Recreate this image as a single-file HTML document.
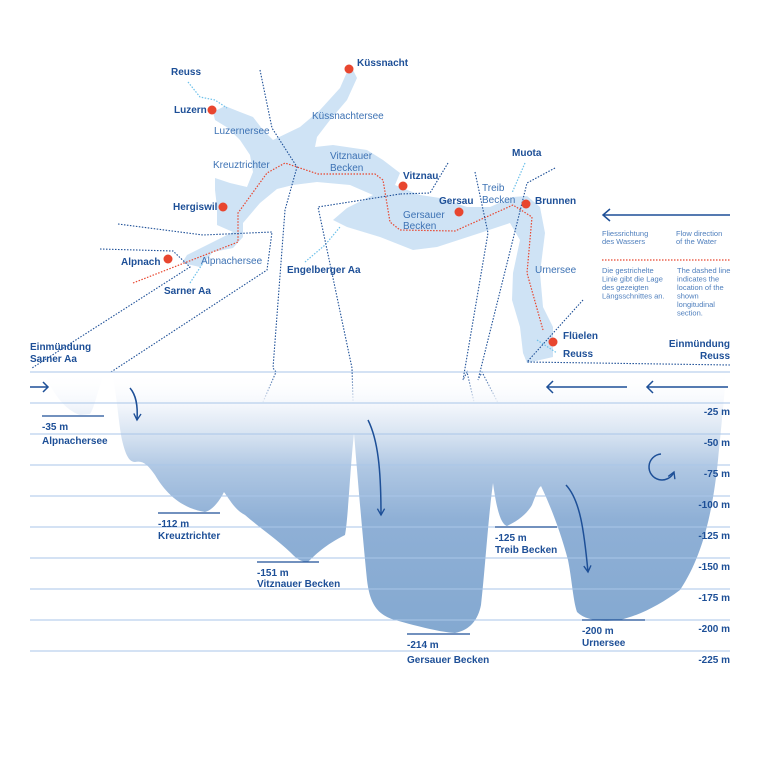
<!DOCTYPE html>
<html><head><meta charset="utf-8"><style>
html,body{margin:0;padding:0;background:#fff}
svg{display:block}
text{font-family:"Liberation Sans",sans-serif}
.b{font-weight:bold;font-size:10px;fill:#1d4f97}
.l{font-size:10px;fill:#3d72b4}
.s{font-size:7.5px;fill:#4f7fbd}
.d{font-size:10px;fill:#1d4f97;font-weight:bold}
</style></head><body>
<svg width="768" height="768" viewBox="0 0 768 768" xmlns="http://www.w3.org/2000/svg">
<defs>
<linearGradient id="g" x1="0" y1="372" x2="0" y2="640" gradientUnits="userSpaceOnUse">
<stop offset="0" stop-color="#fff" stop-opacity="0"/>
<stop offset="0.12" stop-color="#f4f7fc"/>
<stop offset="0.22" stop-color="#dbe6f3"/>
<stop offset="0.36" stop-color="#afc7e3"/>
<stop offset="0.55" stop-color="#8fb0d6"/>
<stop offset="1" stop-color="#83a8d0"/>
</linearGradient>
<marker id="ah" viewBox="0 0 10 10" refX="8" refY="5" markerWidth="6" markerHeight="6" orient="auto"><path d="M1,1 L8,5 L1,9" fill="none" stroke="#1d4f97" stroke-width="1.5"/></marker>
</defs>
<polygon fill="#cfe3f5" points="213,112 225,106 240,112 253,117 263,130 273,140 300,127 320,110 340,88 347,72 353,70 357,78 347,100 330,120 317,137 315,147 333,145 367,150 383,160 400,173 395,185 420,195 440,198 467,207 490,207 513,197 527,196 540,207 545,233 540,273 543,307 553,327 553,357 527,363 523,353 520,327 512,300 513,273 520,240 510,223 480,233 437,247 413,250 380,237 347,227 333,220 347,208 373,195 350,185 317,182 293,185 277,189 260,203 243,223 243,237 233,248 213,252 200,267 182,263 187,255 213,242 233,232 217,225 217,207 215,190 215,178 230,183 247,187 253,172 250,155 240,140 228,128 215,120"/>
<g fill="none" stroke="#6cc0ea" stroke-width="1.2" stroke-dasharray="1.5,1.5">
<polyline points="188,82 200,97 215,100 227,108"/>
<polyline points="190,283 203,263"/>
<polyline points="305,262 325,245 340,227"/>
<polyline points="525,163 512,193"/>
<polyline points="537,340 557,353"/>
</g>
<polyline fill="none" stroke="#e8462f" stroke-width="1.2" stroke-dasharray="1.5,1.5" points="133,283 238,242 238,213 267,173 285,163 318,174 375,174 383,180 390,222 400,230 455,231 513,205 532,217 527,273 543,330"/>
<g fill="none" stroke="#1d4f97" stroke-width="1.1" stroke-dasharray="1.5,1.5">
<polyline points="100,249 173,251 190,267 32,368"/>
<polyline points="118,224 203,235 272,232 267,270 111,372"/>
<polyline points="260,70 272,128 297,167 285,210 273,368 276,372 224,492"/>
<polyline points="400,194 318,207 352,368 354,433"/>
<polyline points="448,163 430,193 400,194"/>
<polyline points="475,172 488,233 463,380 467,372 493,483"/>
<polyline points="555,168 527,183 478,380 482,372 541,486"/>
<polyline points="583,300 527,362 730,365"/>
</g>
<g fill="#e8462f">
<circle cx="349" cy="69" r="4.5"/><circle cx="212" cy="110" r="4.5"/><circle cx="403" cy="186" r="4.5"/>
<circle cx="526" cy="204" r="4.5"/><circle cx="459" cy="212" r="4.5"/><circle cx="223" cy="207" r="4.5"/>
<circle cx="168" cy="259" r="4.5"/><circle cx="553" cy="342" r="4.5"/>
</g>
<text class="b" x="357" y="66">Küssnacht</text>
<text class="b" x="171" y="75">Reuss</text>
<text class="b" x="174" y="113">Luzern</text>
<text class="l" x="214" y="134">Luzernersee</text>
<text class="l" x="312" y="119">Küssnachtersee</text>
<text class="l" x="213" y="168">Kreuztrichter</text>
<text class="l" x="330" y="159">Vitznauer</text><text class="l" x="330" y="171">Becken</text>
<text class="b" x="403" y="179">Vitznau</text>
<text class="b" x="512" y="156">Muota</text>
<text class="l" x="482" y="191">Treib</text><text class="l" x="482" y="203">Becken</text>
<text class="b" x="535" y="204">Brunnen</text>
<text class="b" x="439" y="204">Gersau</text>
<text class="l" x="403" y="218">Gersauer</text><text class="l" x="403" y="229">Becken</text>
<text class="b" x="173" y="210">Hergiswil</text>
<text class="b" x="121" y="265">Alpnach</text>
<text class="l" x="201" y="264">Alpnachersee</text>
<text class="b" x="164" y="294">Sarner Aa</text>
<text class="b" x="287" y="273">Engelberger Aa</text>
<text class="l" x="535" y="273">Urnersee</text>
<text class="b" x="563" y="339">Flüelen</text>
<text class="b" x="563" y="357">Reuss</text>
<text class="b" x="30" y="350">Einmündung</text><text class="b" x="30" y="362">Sarner Aa</text>
<text class="b" x="730" y="347" text-anchor="end">Einmündung</text><text class="b" x="730" y="359" text-anchor="end">Reuss</text>
<line x1="604" y1="215" x2="730" y2="215" stroke="#1d4f97" stroke-width="1.5"/>
<polyline points="610,209 603,215 610,221" fill="none" stroke="#1d4f97" stroke-width="1.5"/>
<text class="s" x="602" y="236">Fliessrichtung</text><text class="s" x="602" y="244">des Wassers</text>
<text class="s" x="676" y="236">Flow direction</text><text class="s" x="676" y="244">of the Water</text>
<line x1="602" y1="260" x2="730" y2="260" stroke="#e8462f" stroke-width="1.2" stroke-dasharray="1.5,1.5"/>
<text class="s" x="602" y="273">Die gestrichelte</text><text class="s" x="602" y="281.5">Linie gibt die Lage</text><text class="s" x="602" y="290">des gezeigten</text><text class="s" x="602" y="298.5">Längsschnittes an.</text>
<text class="s" x="677" y="273">The dashed line</text><text class="s" x="677" y="281.5">indicates the</text><text class="s" x="677" y="290">location of the</text><text class="s" x="677" y="298.5">shown</text><text class="s" x="677" y="307">longitudinal</text><text class="s" x="677" y="315.5">section.</text>
<g fill="url(#g)">
<path d="M47,380 C55,395 65,410 80,415 L90,414 C96,405 98,385 106,372 L47,372 Z"/>
<path d="M111,372 C116,385 118,420 122,440 C125,452 128,462 135,462 C143,460 148,465 155,475 C165,492 180,508 205,512 C213,510 220,500 224,492 C230,500 235,510 245,515 C260,528 275,538 290,552 C296,558 300,562 308,562 C315,555 325,545 345,535 C348,520 350,470 354,433 C357,470 362,530 367,580 C370,605 378,615 395,620 C420,627 440,632 455,633 C470,630 478,620 481,605 C485,570 488,520 493,483 C496,505 500,524 507,526 C520,520 528,512 532,505 C536,495 538,488 541,486 C550,505 560,530 568,560 C572,580 573,600 577,612 C585,620 600,622 620,620 C640,615 660,605 680,590 C700,560 712,520 718,460 C722,420 725,390 726,372 L111,372 Z"/>
</g>
<g stroke="#a9c6e8" stroke-width="1">
<line x1="30" y1="372" x2="730" y2="372"/><line x1="30" y1="403" x2="730" y2="403"/><line x1="30" y1="434" x2="730" y2="434"/>
<line x1="30" y1="465" x2="730" y2="465"/><line x1="30" y1="496" x2="730" y2="496"/><line x1="30" y1="527" x2="730" y2="527"/>
<line x1="30" y1="558" x2="730" y2="558"/><line x1="30" y1="589" x2="730" y2="589"/><line x1="30" y1="620" x2="730" y2="620"/>
<line x1="30" y1="651" x2="730" y2="651"/>
</g>
<g text-anchor="end">
<text class="d" x="730" y="415">-25 m</text><text class="d" x="730" y="446">-50 m</text><text class="d" x="730" y="477">-75 m</text>
<text class="d" x="730" y="508">-100 m</text><text class="d" x="730" y="539">-125 m</text><text class="d" x="730" y="570">-150 m</text>
<text class="d" x="730" y="601">-175 m</text><text class="d" x="730" y="632">-200 m</text><text class="d" x="730" y="663">-225 m</text>
</g>
<g stroke="#1d4f97" stroke-width="1.3">
<line x1="42" y1="416" x2="104" y2="416"/><line x1="158" y1="513" x2="220" y2="513"/>
<line x1="257" y1="562" x2="319" y2="562"/><line x1="407" y1="634" x2="470" y2="634"/>
<line x1="495" y1="527" x2="557" y2="527"/><line x1="582" y1="620" x2="645" y2="620"/>
</g>
<text class="d" x="42" y="430">-35 m</text><text class="d" x="42" y="444">Alpnachersee</text>
<text class="d" x="158" y="527">-112 m</text><text class="d" x="158" y="539">Kreuztrichter</text>
<text class="d" x="257" y="576">-151 m</text><text class="d" x="257" y="587">Vitznauer Becken</text>
<text class="d" x="407" y="648">-214 m</text><text class="d" x="407" y="663">Gersauer Becken</text>
<text class="d" x="495" y="541">-125 m</text><text class="d" x="495" y="553">Treib Becken</text>
<text class="d" x="582" y="634">-200 m</text><text class="d" x="582" y="646">Urnersee</text>
<g fill="none" stroke="#1d4f97" stroke-width="1.5">
<line x1="30" y1="387" x2="48" y2="387"/><polyline points="43,382 48,387 43,392"/>
<line x1="547" y1="387" x2="627" y2="387"/><polyline points="553,381 547,387 553,393"/>
<line x1="647" y1="387" x2="728" y2="387"/><polyline points="653,381 647,387 653,393"/>
<path d="M130,388 C136,395 138,405 137,420" marker-end="url(#ah)"/>
<path d="M368,420 C378,440 381,470 381,515" marker-end="url(#ah)"/>
<path d="M566,485 C580,500 584,530 588,572" marker-end="url(#ah)"/>
<path d="M661,454 A13,13 0 1 0 674,472" marker-end="url(#ah)"/>
</g>
</svg>
</body></html>
